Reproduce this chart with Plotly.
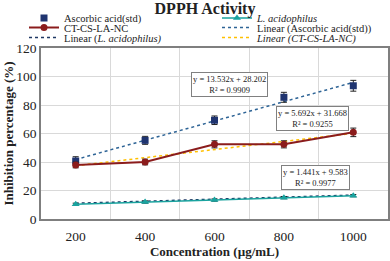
import plotly.graph_objects as go

conc_labels = ["200", "400", "600", "800", "1000"]
ascorbic = [40.7, 55.2, 69.3, 85.4, 93.5]
ascorbic_err = [3.0, 2.8, 3.0, 3.5, 3.8]
ctcs = [37.9, 40.0, 52.4, 52.4, 60.8]
ctcs_err = [2.0, 2.0, 2.5, 2.5, 3.0]
lacid = [10.3, 11.9, 13.3, 15.0, 16.4]
lacid_err = [0.8, 0.8, 0.8, 0.8, 0.8]

# trendline coefficients as printed on the chart (x = 1..5)
fit_ascorbic = (13.532, 28.202, 0.9909)
fit_ctcs = (5.692, 31.668, 0.9255)
fit_lacid = (1.441, 9.583, 0.9977)

xi = list(range(len(conc_labels)))

def trend(fit):
    m, b, _ = fit
    return [m * (i + 1) + b for i in xi]

FONT = "Liberation Serif"
fig = go.Figure()

# trendlines
fig.add_trace(go.Scatter(x=xi, y=trend(fit_ascorbic), mode="lines",
                         line=dict(color="#2e6496", width=1.5, dash="dot"),
                         name="Linear (Ascorbic acid(std))", legend="legend4"))
fig.add_trace(go.Scatter(x=xi, y=trend(fit_lacid), mode="lines",
                         line=dict(color="#1f3864", width=1.5, dash="dot"),
                         name="Linear (<i>L. acidophilus)</i>", legend="legend5"))
fig.add_trace(go.Scatter(x=xi, y=trend(fit_ctcs), mode="lines",
                         line=dict(color="#ffc000", width=1.5, dash="dot"),
                         name="<i>Linear (CT-CS-LA-NC)</i>", legend="legend6"))

# data series
fig.add_trace(go.Scatter(x=xi, y=ascorbic, mode="markers",
                         marker=dict(symbol="square", size=7, color="#1f3470"),
                         error_y=dict(type="data", array=ascorbic_err, color="#222", thickness=1, width=3),
                         name="Ascorbic acid(std)", legend="legend"))
fig.add_trace(go.Scatter(x=xi, y=lacid, mode="lines+markers",
                         line=dict(color="#1aa39f", width=1.5),
                         marker=dict(symbol="triangle-up", size=7, color="#1aa39f"),
                         error_y=dict(type="data", array=lacid_err, color="#222", thickness=1, width=3),
                         name="<i>L. acidophilus</i>", legend="legend2"))
fig.add_trace(go.Scatter(x=xi, y=ctcs, mode="lines+markers",
                         line=dict(color="#8b1c1c", width=2),
                         marker=dict(symbol="circle", size=7, color="#8b1c1c"),
                         error_y=dict(type="data", array=ctcs_err, color="#222", thickness=1, width=3),
                         name="CT-CS-LA-NC", legend="legend3"))

def eq_text(fit):
    m, b, r2 = fit
    return f"y = {m:.3f}x + {b:.3f}<br>R² = {r2:.4f}"

ann = []
for fit, (ax, ay) in [(fit_ascorbic, (0.542, 0.784)), (fit_ctcs, (0.781, 0.585)), (fit_lacid, (0.790, 0.240))]:
    ann.append(dict(text=eq_text(fit), xref="paper", yref="paper", x=ax, y=ay,
                    xanchor="center", yanchor="middle",
                    showarrow=False, font=dict(family=FONT, size=8.5, color="#222"),
                    bordercolor="#808080", borderwidth=1, borderpad=1, bgcolor="white"))

def leg(xpx, ypx):
    return dict(orientation="h", xref="container", yref="container", xanchor="left", yanchor="middle",
                x=xpx / 390, y=1 - ypx / 261, bgcolor="rgba(0,0,0,0)", borderwidth=0,
                font=dict(family=FONT, size=10.5, color="#222"))

C1, C2 = 24, 217
R1, R2, R3 = 18, 27.5, 37.5

fig.update_layout(
    width=390, height=261,
    margin=dict(l=41, r=2, t=48, b=42, autoexpand=False),
    paper_bgcolor="white", plot_bgcolor="white",
    title=dict(text="<b>DPPH Activity</b>", font=dict(family=FONT, size=16, color="#222"),
               xref="container", yref="container", x=205 / 390, y=1 - 8 / 261,
               xanchor="center", yanchor="middle"),
    xaxis=dict(range=[-0.5, 4.5], tickvals=xi, ticktext=conc_labels, showgrid=False,
               minor=dict(tickvals=[0.5, 1.5, 2.5, 3.5], showgrid=True, gridcolor="#d9d9d9", gridwidth=1),
               showline=True, mirror=True, linecolor="#7f7f7f", linewidth=1.5, ticks="",
               ticklabelstandoff=4,
               tickfont=dict(family=FONT, size=13.5, color="#222"), zeroline=False,
               title=dict(text="<b>Concentration (µg/mL)</b>", font=dict(family=FONT, size=13, color="#222"), standoff=2)),
    yaxis=dict(range=[0, 120], dtick=20, gridcolor="#d9d9d9", showline=True, mirror=True,
               linecolor="#7f7f7f", linewidth=1.5, ticks="", zeroline=False,
               tickfont=dict(family=FONT, size=13.5, color="#222"),
               title=dict(text="<b>Inhibition percentage (%)</b>", font=dict(family=FONT, size=13, color="#222"), standoff=0)),
    legend=leg(C1, R1), legend2=leg(C2, R1),
    legend3=leg(C1, R2), legend4=leg(C2, R2),
    legend5=leg(C1, R3), legend6=leg(C2, R3),
    annotations=ann,
    showlegend=True,
)

fig.write_html("out.html", config={"displayModeBar": False},
               post_script="document.body.style.margin='0';")
